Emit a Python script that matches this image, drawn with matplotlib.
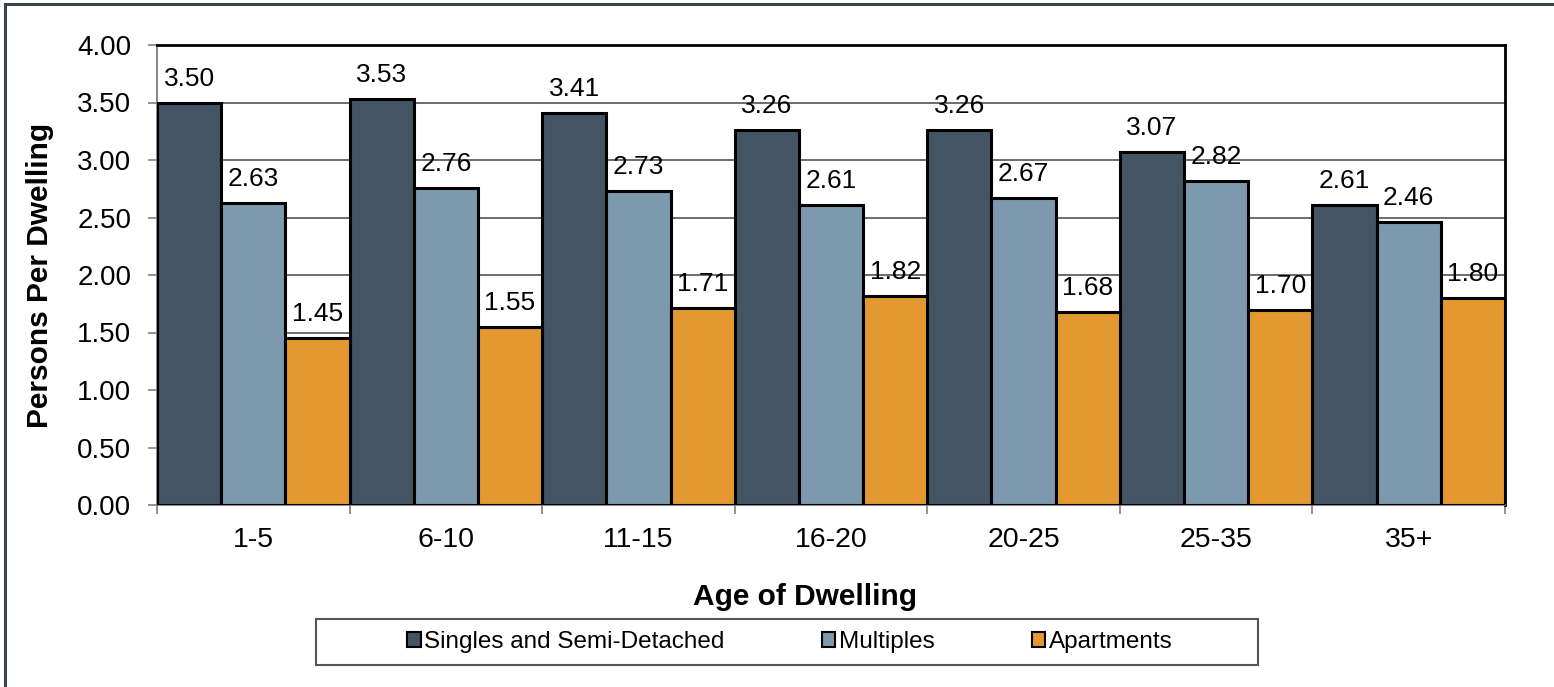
import numpy as np
import matplotlib.pyplot as plt
from matplotlib.patches import Rectangle

plt.rcParams['font.family'] = ['Liberation Sans', 'DejaVu Sans']

age_groups = ['1-5', '6-10', '11-15', '16-20', '20-25', '25-35', '35+']
singles = [3.50, 3.53, 3.41, 3.26, 3.26, 3.07, 2.61]
multiples = [2.63, 2.76, 2.73, 2.61, 2.67, 2.82, 2.46]
apartments = [1.45, 1.55, 1.71, 1.82, 1.68, 1.70, 1.80]

series = ['Singles and Semi-Detached', 'Multiples', 'Apartments']
colors = ['#435464', '#7c99ae', '#e3992f']

W, H = 1554, 687
fig = plt.figure(figsize=(W / 100, H / 100), dpi=100)
ax = fig.add_axes([157 / W, 1 - 505 / H, (1505 - 157) / W, (505 - 45) / H])

# outer chart border (only left/top visible in the reference)
fig.patches.append(Rectangle((5 / W, -0.1), 1.2, 1 - 4 / H + 0.1,
                             transform=fig.transFigure, fill=False,
                             edgecolor='#3a434b', linewidth=2.2))

x = np.arange(len(age_groups))
w = 1 / 3
for i, (vals, name, col) in enumerate(zip([singles, multiples, apartments], series, colors)):
    bars = ax.bar(x - w + i * w, vals, width=w, color=col, edgecolor='black',
                  linewidth=2.2, label=name, zorder=3)
    for b, v in zip(bars, vals):
        ax.annotate(f'{v:.2f}', (b.get_x() + b.get_width() / 2, v),
                    xytext=(0, 12.2), textcoords='offset points',
                    ha='center', va='baseline', fontsize=19, zorder=4)

ax.set_xlim(-0.5, len(age_groups) - 0.5)
ax.set_ylim(0, 4)
yt = np.arange(0, 4.01, 0.5)
ax.set_yticks(yt)
ax.set_yticklabels([f'{t:.2f}' for t in yt], fontsize=20)
ax.yaxis.grid(True, color='#606060', linewidth=1.3, zorder=0)
ax.set_axisbelow(True)

ax.set_xticks(x)
ax.set_xticklabels(age_groups, fontsize=20.5)
ax.set_xticks(np.arange(-0.5, len(age_groups)), minor=True)
ax.tick_params(axis='x', which='major', length=0, pad=16)
ax.tick_params(axis='x', which='minor', length=6.5, width=1.2, color='#7f7f7f')
ax.tick_params(axis='y', length=6.5, width=1.2, color='#7f7f7f', pad=12)

for s in ['top', 'right']:
    ax.spines[s].set_linewidth(2)
    ax.spines[s].set_color('black')
for s in ['left', 'bottom']:
    ax.spines[s].set_linewidth(1.3)
    ax.spines[s].set_color('#7f7f7f')

ax.set_xlabel('Age of Dwelling', fontsize=21.5, fontweight='bold', va='center')
ax.xaxis.set_label_coords((805 - 157) / 1348, -(597 - 505) / 460)
ax.set_ylabel('Persons Per Dwelling', fontsize=21.5, fontweight='bold', va='center')
ax.yaxis.set_label_coords((40 - 157) / 1348, 0.5)

# legend box is wider than the entries, so draw it separately
fig.patches.append(Rectangle((316 / W, 1 - 665 / H), (1258 - 316) / W, 46 / H,
                             transform=fig.transFigure, fill=False,
                             edgecolor='#555555', linewidth=1.5))
leg = fig.legend(loc='center', bbox_to_anchor=(790 / W, 1 - 642 / H),
                 ncol=3, fontsize=17.5, frameon=False,
                 handlelength=0.55, handleheight=0.55, handletextpad=0.15,
                 columnspacing=4.0, borderpad=0.4, borderaxespad=0)
for h in leg.legend_handles:
    h.set_linewidth(1.5)

fig.savefig('out.png', dpi=100)
